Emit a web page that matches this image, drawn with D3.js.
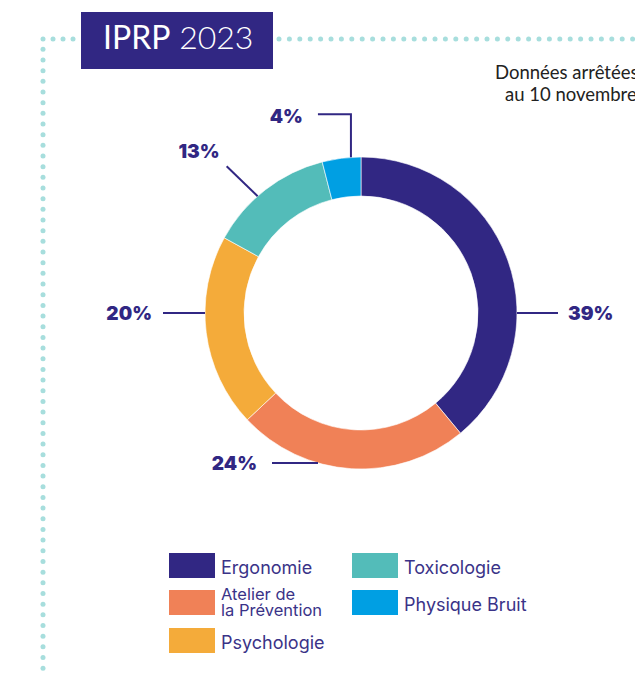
<!DOCTYPE html>
<html><head><meta charset="utf-8">
<script src="https://cdn.jsdelivr.net/npm/d3@7/dist/d3.min.js"></script>
<style>html,body{margin:0;padding:0;background:#fff;overflow:hidden}</style>
</head><body>
<script>
// ---- data ----
const categories = ["Ergonomie", "Atelier de la Prévention", "Psychologie", "Toxicologie", "Physique Bruit"];
const values = [39, 24, 20, 13, 4];
const percentLabels = ["39%", "24%", "20%", "13%", "4%"];
const legendLabels = [["Ergonomie"], ["Atelier de", "la Prévention"], ["Psychologie"], ["Toxicologie"], ["Physique Bruit"]];
const colors = ["#312783", "#f08157", "#f4ab3a", "#53bcb9", "#009fe3"];
const titleMain = "IPRP";
const titleYear = "2023";
const noteLines = ["Données arrêtées", "au 10 novembre"];

const W = 635, H = 674;
const ink = "#312783";
const svg = d3.select("body").append("svg").attr("width", W).attr("height", H);

// ---- dotted frame ----
const dotColor = "#a7dedd";
const dotsH = d3.range(43, 76, 10).concat(d3.range(279, W + 5, 10.4));
svg.append("g").selectAll("circle").data(dotsH).join("circle")
  .attr("cx", d => d).attr("cy", 39).attr("r", 2.5).attr("fill", dotColor);
const dotsV = d3.range(49.3, H, 10.67);
svg.append("g").selectAll("circle").data(dotsV).join("circle")
  .attr("cx", 43).attr("cy", d => d).attr("r", 2.5).attr("fill", dotColor);

// ---- title ----
svg.append("rect").attr("x", 81).attr("y", 12).attr("width", 192).attr("height", 57).attr("fill", ink);
const tt = svg.append("text").attr("x", 103).attr("y", 49)
  .attr("font-family", "Lato, 'Open Sans', sans-serif").attr("font-size", 32).attr("fill", "#fff");
tt.append("tspan").attr("font-weight", 400).text(titleMain);
tt.append("tspan").attr("font-weight", 300).text(" " + titleYear);

// ---- note ----
svg.append("g").selectAll("text").data(noteLines).join("text")
  .attr("x", (d, i) => i === 0 ? 495 : 505).attr("y", (d, i) => 79 + i * 22)
  .attr("font-family", "Lato, sans-serif").attr("font-size", 18.5).attr("fill", "#222")
  .text(d => d);

// ---- donut ----
const cx = 361, cy = 313, R = 156, r = 117;
const g = svg.append("g").attr("transform", `translate(${cx},${cy})`);
const pie = d3.pie().sort(null).value(d => d)(values);
const arc = d3.arc().innerRadius(r).outerRadius(R);
g.selectAll("path").data(pie).join("path")
  .attr("d", arc).attr("fill", (d, i) => colors[i])
  .attr("stroke", "#fff").attr("stroke-opacity", 0.6).attr("stroke-width", 1);

// ---- leader lines & percentage labels (layout) ----
const rad = a => a * Math.PI / 180;
const pt = a => [R * Math.sin(rad(a)), -R * Math.cos(rad(a))];
const layout = [
  { ang: 90,    path: p => [p, [p[0] + 41, p[1]]], tx: 51, ty: 7, anchor: "start" },
  { ang: 196,   path: p => [p, [p[0] - 46, p[1]]], tx: -61, ty: 7, anchor: "end" },
  { ang: 270,   path: p => [p, [p[0] - 42, p[1]]], tx: -53, ty: 7, anchor: "end" },
  { ang: 318.5, path: p => [p, [p[0] - 31, p[1] - 30]], tx: -38, ty: -38, anchor: "end" },
  { ang: 356.3, path: p => [p, [p[0], p[1] - 43], [p[0] - 33, p[1] - 43]], tx: -48, ty: -34, anchor: "end" }
];
const line = d3.line();
layout.forEach((L, i) => {
  const p = pt(L.ang);
  g.append("path").attr("d", line(L.path(p))).attr("fill", "none")
    .attr("stroke", ink).attr("stroke-width", 2);
  g.append("text").attr("x", p[0] + L.tx).attr("y", p[1] + L.ty)
    .attr("text-anchor", L.anchor)
    .attr("font-family", "Inter, 'Noto Sans', sans-serif").attr("font-weight", 900)
    .attr("font-size", 19).attr("fill", ink).text(percentLabels[i]);
});

// ---- legend ----
const legPos = [[169, 553], [169, 590], [169, 628], [352, 553], [352, 590]];
const leg = svg.append("g").selectAll("g").data(categories).join("g")
  .attr("transform", (d, i) => `translate(${legPos[i][0]},${legPos[i][1]})`);
leg.append("rect").attr("width", 46).attr("height", 25).attr("fill", (d, i) => colors[i]);
leg.each(function(d, i) {
  const lines = legendLabels[i];
  const two = lines.length > 1;
  d3.select(this).selectAll("text").data(lines).join("text")
    .attr("x", 52).attr("y", (t, j) => two ? 10 + j * 16 : 21)
    .attr("font-family", "Inter, 'Noto Sans', sans-serif")
    .attr("font-size", two ? 16.5 : 18).attr("fill", "#3a3388").text(t => t);
});
</script>
</body></html>
